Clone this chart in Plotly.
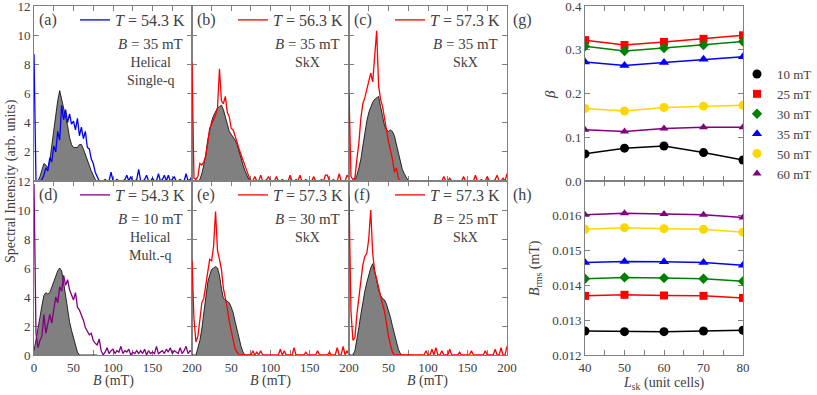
import numpy as np
import plotly.graph_objects as go

# field axis of the spectra (mT), 2.5 mT steps
B_MT = np.arange(0, 200.1, 2.5)
B_FILL = B_MT[:33]

# --- spectra (colored lines), rows of 10 points ---
spec_a = [8.7, 0, 0, 0, 0.1, 0.4, 0.9, 0.7, 1.6, 1.3,
          2.4, 2.0, 3.4, 2.8, 5.2, 4.2, 4.9, 4.0, 4.6, 3.9,
          4.1, 3.5, 4.3, 3.1, 3.7, 2.9, 3.4, 2.3, 2.2, 1.5,
          1.2, 0.6, 0.3, 0, 0, 0, 0.1, 0, 0, 0.6,
          0, 0, 0.1, 0, 0, 0, 0.1, 0.4, 0, 0.3,
          0, 0, 0.1, 0.8, 0, 0, 0.1, 0.4, 0, 0,
          0.2, 0, 0, 0.5, 0, 0.1, 0.4, 0, 0.4, 0,
          0.1, 0.3, 0, 0, 0.1, 0, 0, 0.5, 0, 0.1,
          0.3]
spec_b = [8.1, 0.2, 0.1, 0.3, 1.2, 1.1, 1.3, 1.7, 2.6, 3.6,
          3.9, 4.2, 4.5, 5.0, 7.7, 5.5, 5.3, 5.8, 4.7, 4.4,
          3.6, 3.5, 3.0, 2.7, 2.2, 1.8, 1.4, 1.0, 0.6, 0.3,
          0, 0, 0.3, 0, 0, 0.4, 0, 0, 0.1, 0.3,
          0, 0, 0, 0.3, 0, 0, 0.1, 0, 0, 0,
          0.4, 0, 0, 0.1, 0, 0.4, 0, 0, 0.1, 0,
          0, 0, 0.3, 0, 0, 0, 0.1, 0, 0.4, 0.4,
          0, 0, 0.1, 0, 0, 0.5, 0, 0, 0, 0.4,
          0.2]
spec_c = [6.0, 0.3, 0.1, 0.2, 1.5, 2.6, 4.3, 5.3, 5.7, 6.2,
          6.8, 7.4, 6.8, 8.4, 10.3, 6.5, 5.6, 5.1, 4.2, 3.4,
          2.7, 2.1, 1.5, 0.6, 0.9, 0.2, 0, 0, 0, 0,
          0, 0, 0, 0, 0, 0, 0, 0, 0, 0,
          0, 0, 0, 0, 0, 0, 0, 0, 0.3, 0,
          0, 0.2, 0, 0, 0, 0, 0, 0, 0.3, 0,
          0, 0, 0, 0, 0.4, 0, 0, 0.1, 0, 0,
          0.3, 0, 0, 0, 0.1, 0.4, 0, 0, 0.2, 0,
          0.5]
spec_d = [11.8, 1.5, 0.5, 1.0, 1.3, 2.8, 1.5, 2.2, 2.8, 2.2,
          3.3, 4.0, 3.6, 4.7, 4.4, 5.5, 4.8, 5.2, 4.5, 4.2,
          3.8, 4.3, 3.3, 3.1, 2.8, 2.4, 1.9, 1.6, 1.4, 1.5,
          1.0, 0.8, 0.7, 1.1, 0.3, 0, 0.2, 0.5, 0.1, 0.3,
          0.4, 0.1, 0.3, 0.2, 0.6, 0.1, 0.3, 0.2, 0.4, 0,
          0.2, 0.1, 0.3, 0.1, 0.3, 0.1, 0.4, 0, 0.3, 0.1,
          0.2, 0.1, 0.6, 0.1, 0.2, 0.3, 0.1, 0.4, 0.2, 0.5,
          0.1, 0.3, 0.2, 0.1, 0.5, 0.1, 0.3, 0.6, 0.1, 0.3,
          0.2]
spec_e = [6.5, 2.5, 0.9, 1.3, 2.4, 3.6, 3.9, 4.8, 5.6, 6.6,
          6.5, 7.5, 9.9, 7.2, 6.6, 5.9, 4.6, 4.0, 3.2, 2.3,
          1.6, 1.0, 0.4, 0.2, 0, 0, 0, 0, 0, 0,
          0, 0.3, 0, 0.2, 0, 0.3, 0, 0, 0, 0,
          0, 0, 0, 0, 0, 0.4, 0, 0.3, 0, 0,
          0, 0, 0.5, 0, 0, 0, 0, 0, 0.2, 0,
          0, 0, 0, 0, 0.3, 0, 0, 0, 0, 0,
          0.2, 0, 0, 0, 0.5, 0, 0, 0.6, 0, 0.3,
          0]
spec_f = [11.0, 3.0, 1.0, 1.2, 2.8, 4.2, 5.1, 6.2, 6.8, 7.0,
          8.0, 10.0, 7.0, 5.8, 5.2, 4.5, 4.0, 3.5, 3.0, 2.0,
          1.3, 0.7, 0.2, 0, 0, 0, 0, 0, 0, 0,
          0, 0, 0, 0, 0, 0, 0, 0, 0, 0.3,
          0, 0, 0.4, 0, 0.5, 0, 0, 0.3, 0, 0,
          0, 0.4, 0, 0, 0, 0, 0.2, 0, 0, 0,
          0, 0, 0.3, 0, 0, 0, 0, 0, 0, 0.3,
          0, 0, 0, 0, 0.4, 0, 0, 0.5, 0, 0,
          0.6]

# --- gray reference spectra, 0..80 mT ---
gray_a = [0, 0, 0, 0.3, 0.8, 1.2, 1.1, 0.9, 1.4, 2.5, 3.6, 4.7, 5.5, 6.2, 5.6, 5.1, 4.5,
          3.8, 3.0, 2.5, 2.3, 2.3, 2.3, 2.5, 2.5, 2.2, 1.8, 1.4, 1.1, 0.7, 0.4, 0.1, 0]
gray_b = [0, 0, 0, 0, 0.1, 0.5, 1.1, 1.8, 2.8, 3.6, 4.1, 4.5, 4.8, 5.0, 5.1, 5.2, 4.9,
          4.4, 3.8, 3.4, 3.2, 3.0, 2.8, 2.5, 2.0, 1.6, 1.1, 0.7, 0.4, 0.1, 0, 0, 0]
gray_c = [0, 0, 0, 0.1, 0.4, 0.9, 1.5, 2.4, 3.3, 4.1, 4.7, 5.1, 5.4, 5.6, 5.7, 5.8, 5.1,
          4.4, 3.8, 3.5, 3.4, 3.5, 3.4, 3.1, 2.5, 1.8, 1.3, 0.8, 0.5, 0.2, 0, 0, 0]
gray_d = [0.3, 1.0, 1.8, 2.6, 3.4, 4.1, 4.3, 4.2, 4.3, 4.7, 5.0, 5.5, 5.8, 6.0, 5.8, 5.0, 4.0,
          3.2, 2.3, 1.7, 1.2, 0.6, 0.2, 0, 0, 0, 0, 0, 0, 0, 0, 0, 0]
gray_e = [0, 0, 0, 0.5, 1.0, 1.8, 3.0, 4.2, 5.0, 5.5, 5.9, 6.0, 6.1, 6.0, 5.5, 4.6, 3.9,
          3.8, 3.7, 3.6, 3.3, 2.9, 2.3, 1.7, 1.1, 0.6, 0.2, 0, 0, 0, 0, 0, 0]
gray_f = [0, 0, 0, 0.3, 1.0, 1.9, 2.8, 3.7, 4.4, 5.0, 5.5, 6.0, 6.3, 5.8, 5.2, 4.5, 4.1,
          3.9, 3.8, 3.5, 3.1, 2.6, 2.0, 1.4, 0.9, 0.4, 0.1, 0, 0, 0, 0, 0, 0]

# --- right panels ---
L_SK = [40, 50, 60, 70, 80]
FIELDS = ["10 mT", "25 mT", "30 mT", "35 mT", "50 mT", "60 mT"]
beta_10 = [0.062, 0.075, 0.080, 0.065, 0.048]
beta_25 = [0.322, 0.311, 0.318, 0.325, 0.333]
beta_30 = [0.308, 0.297, 0.304, 0.311, 0.319]
beta_35 = [0.272, 0.264, 0.271, 0.278, 0.284]
beta_50 = [0.166, 0.160, 0.168, 0.171, 0.173]
beta_60 = [0.117, 0.113, 0.120, 0.123, 0.123]
brms_10 = [0.01269, 0.01267, 0.01267, 0.01269, 0.01271]
brms_25 = [0.01370, 0.01373, 0.01371, 0.01370, 0.01364]
brms_30 = [0.01419, 0.01423, 0.01421, 0.01419, 0.01412]
brms_35 = [0.01466, 0.01469, 0.01468, 0.01466, 0.01458]
brms_50 = [0.01561, 0.01566, 0.01563, 0.01561, 0.01553]
brms_60 = [0.01603, 0.01607, 0.01605, 0.01603, 0.01595]

W, H = 817, 395
FONT = '"Liberation Serif", "DejaVu Serif", serif'
AX = "#808080"
TXT = "#404040"


def px(v):
    return v / W


def py(v):
    return 1 - v / H


COLS = [(34, 192), (192, 349), (349, 507)]
ROWS = [(6, 181), (181, 355)]
RIGHT = (585, 743)

panels = [
    ("a", spec_a, gray_a, "#0000ff", "54.3", "35", ["Helical", "Single-q"]),
    ("b", spec_b, gray_b, "#ff0000", "56.3", "35", ["SkX"]),
    ("c", spec_c, gray_c, "#ff0000", "57.3", "35", ["SkX"]),
    ("d", spec_d, gray_d, "#800080", "54.3", "10", ["Helical", "Mult.-q"]),
    ("e", spec_e, gray_e, "#ff0000", "57.3", "30", ["SkX"]),
    ("f", spec_f, gray_f, "#ff0000", "57.3", "25", ["SkX"]),
]

fig = go.Figure()
layout = {}
annotations = []
tickfont = dict(family=FONT, size=13, color=TXT)


def axis_common():
    return dict(showline=True, linecolor=AX, linewidth=1, mirror="ticks", ticks="inside",
                ticklen=5, tickcolor=AX, showgrid=False, zeroline=False, automargin=False,
                ticklabeloverflow="allow", layer="below traces", tickfont=tickfont)


for i, (tag, spec, gray, color, temp, field, phase) in enumerate(panels):
    n = i + 1
    r, c = divmod(i, 3)
    sfx = "" if n == 1 else str(n)
    fig.add_trace(go.Scatter(x=B_FILL, y=gray, xaxis="x" + sfx, yaxis="y" + sfx,
                             mode="lines", fill="tozeroy", fillcolor="#808080",
                             line=dict(color="black", width=0.8), showlegend=False))
    fig.add_trace(go.Scatter(x=B_MT, y=spec, xaxis="x" + sfx, yaxis="y" + sfx,
                             mode="lines", line=dict(color=color, width=1.3),
                             name=f"<i>T</i> = {temp} K", legend=f"legend{n + 1}"))
    x0, x1 = COLS[c]
    y0, y1 = ROWS[r]
    xt = ["0", "", "50", "", "100", "", "150", "", "200"]
    if c > 0:
        xt[0] = ""
    yt = ["0", "2", "4", "6", "8", "10", "12"]
    if r == 0:
        yt[0] = ""
    xa = axis_common()
    xa.update(domain=[px(x0), px(x1)], range=[0, 200], anchor="y" + sfx,
              tickvals=list(range(0, 201, 25)), ticktext=xt, showticklabels=(r == 1))
    ya = axis_common()
    ya.update(domain=[py(y1), py(y0)], range=[0, 12], anchor="x" + sfx,
              tickvals=list(range(0, 13, 2)), ticktext=yt, showticklabels=(c == 0))
    layout["xaxis" + sfx] = xa
    layout["yaxis" + sfx] = ya
    layout[f"legend{n + 1}"] = dict(x=px(x0 + 41), xanchor="left", y=py(y0 + 14),
                                    yanchor="middle", bgcolor="rgba(0,0,0,0)",
                                    font=dict(family=FONT, size=16, color=TXT),
                                    itemwidth=30)
    annotations.append(dict(text=f"({tag})", x=px(x0 + 3), y=py(y0 + 14), xanchor="left",
                            yanchor="middle", font=dict(family=FONT, size=16, color=TXT)))
    annotations.append(dict(text=f"<i>B</i> = {field} mT", x=px(x1 - 7), y=py(y0 + 38),
                            xanchor="right", yanchor="middle",
                            font=dict(family=FONT, size=15, color=TXT)))
    annotations.append(dict(text="<br>".join(phase), x=px(x1 - 42),
                            y=py(y0 + 47), xanchor="center", yanchor="top", align="center",
                            font=dict(family=FONT, size=14, color=TXT)))
    if r == 1:
        annotations.append(dict(text="<i>B</i> (mT)", x=px((x0 + x1) / 2), y=py(381),
                                xanchor="center", yanchor="middle",
                                font=dict(family=FONT, size=14, color=TXT)))

# right panels
styles = [
    ("#000000", "circle", 9, beta_10, brms_10),
    ("#ff0000", "square", 8, beta_25, brms_25),
    ("#008000", "diamond", 8, beta_30, brms_30),
    ("#0000ff", "triangle-up", 9, beta_35, brms_35),
    ("#ffd700", "circle", 9, beta_50, brms_50),
    ("#800080", "triangle-up", 8, beta_60, brms_60),
]
for name, (color, sym, size, beta, brms) in zip(FIELDS, styles):
    fig.add_trace(go.Scatter(x=L_SK, y=beta, xaxis="x7", yaxis="y7", mode="lines+markers",
                             line=dict(color=color, width=1.5),
                             marker=dict(color=color, symbol=sym, size=size),
                             showlegend=False))
    fig.add_trace(go.Scatter(x=L_SK, y=brms, xaxis="x8", yaxis="y8", mode="lines+markers",
                             line=dict(color=color, width=1.5),
                             marker=dict(color=color, symbol=sym, size=size),
                             showlegend=False))
    fig.add_trace(go.Scatter(x=[None], y=[None], xaxis="x7", yaxis="y7", mode="markers",
                             marker=dict(color=color, symbol=sym, size=size),
                             name=name, legend="legend"))

for n, (y0, y1) in zip((7, 8), ROWS):
    xa = axis_common()
    xa.update(domain=[px(RIGHT[0]), px(RIGHT[1])], range=[40, 80], anchor=f"y{n}",
              tickvals=list(range(40, 81, 5)),
              ticktext=["40", "", "50", "", "60", "", "70", "", "80"],
              showticklabels=(n == 8))
    ya = axis_common()
    if n == 7:
        ya.update(range=[0, 0.4], tickvals=[0, 0.1, 0.2, 0.3, 0.4],
                  ticktext=["0.0", "0.1", "0.2", "0.3", "0.4"])
    else:
        ya.update(range=[0.012, 0.017], tickvals=[0.012, 0.013, 0.014, 0.015, 0.016],
                  ticktext=["0.012", "0.013", "0.014", "0.015", "0.016"])
    ya.update(domain=[py(y1), py(y0)], anchor=f"x{n}")
    layout[f"xaxis{n}"] = xa
    layout[f"yaxis{n}"] = ya

layout["legend"] = dict(x=px(737), xanchor="left", y=py(124), yanchor="middle",
                        bgcolor="rgba(0,0,0,0)", itemwidth=30,
                        font=dict(family=FONT, size=13, color=TXT))

annotations += [
    dict(text="Spectral Intensity (arb. units)", x=px(11), y=py(181), textangle=-90,
         xanchor="center", yanchor="middle", font=dict(family=FONT, size=14, color=TXT)),
    dict(text="(g)", x=px(522), y=py(20), xanchor="center", yanchor="middle",
         font=dict(family=FONT, size=16, color=TXT)),
    dict(text="(h)", x=px(522), y=py(195), xanchor="center", yanchor="middle",
         font=dict(family=FONT, size=16, color=TXT)),
    dict(text="<i>β</i>", x=px(550), y=py(95), textangle=-90, xanchor="center",
         yanchor="middle", font=dict(family=FONT, size=15, color=TXT)),
    dict(text="<i>B</i><sub>rms</sub> (mT)", x=px(535), y=py(268), textangle=-90,
         xanchor="center", yanchor="middle", font=dict(family=FONT, size=14, color=TXT)),
    dict(text="<i>L</i><sub>sk</sub> (unit cells)", x=px(664), y=py(383),
         xanchor="center", yanchor="middle", font=dict(family=FONT, size=14, color=TXT)),
]
for a in annotations:
    a.update(xref="paper", yref="paper", showarrow=False)

fig.update_layout(**layout)
fig.update_layout(width=W, height=H, margin=dict(l=0, r=0, t=0, b=0),
                  paper_bgcolor="white", plot_bgcolor="white",
                  annotations=annotations, showlegend=True)

# drop the default page margin so the figure sits at the window origin
fig.write_html("out.html", config={"displayModeBar": False},
               post_script="document.body.style.margin = '0';")
